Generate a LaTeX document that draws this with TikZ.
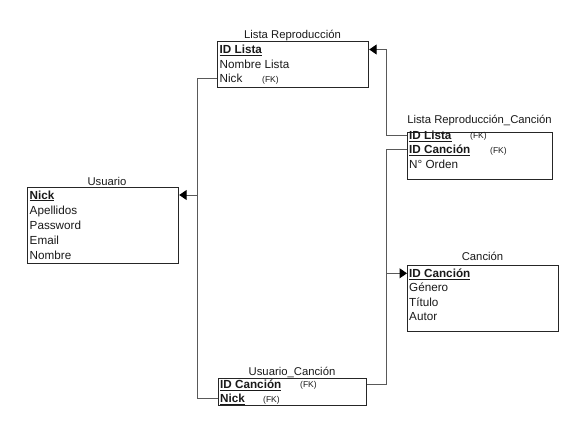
\documentclass[tikz,border=0pt]{standalone}
\usepackage{fontspec}
\setmainfont{Liberation Sans}
\usetikzlibrary{positioning,arrows.meta}

\begin{document}
\begin{tikzpicture}[x=1pt, y=-1pt,
    every node/.style={font=\fontsize{11.7}{13}\selectfont, text=black!90},
    tabla/.style={draw=black!85, line width=1.2pt, rectangle, inner sep=0pt, anchor=north west},
    titulo/.style={anchor=base, inner sep=0pt, font=\fontsize{11.3}{13}\selectfont},
    fila/.style={anchor=base west, inner sep=0pt, text height=8pt, text depth=0pt},
    fk/.style={anchor=base west, inner sep=0pt, font=\fontsize{8.5}{9}\selectfont},
    conn/.style={draw=black!65, line width=1pt},
    flecha/.style={conn, ->, >={Triangle[length=7.5pt,width=10pt,fill=black,color=black]}}]
  \useasboundingbox (0,0) rectangle (583,433);

  \node[tabla, minimum width=151pt, minimum height=46pt] (lista) at (217,41) {};
  \node[titulo] (lista-t) at (292.5,39) {Lista Reproducción};
  \node[fila] (lista-id) at (219.5,53.5) {\underline{\textbf{ID Lista}}};
  \node[fila] (lista-nombre) at (219.5,68.5) {Nombre Lista};
  \node[fila] (lista-nick) at (219.5,83) {Nick};
  \node[fk] (lista-nick-fk) at (262,82.5) {(FK)};

  \node[tabla, minimum width=145pt, minimum height=47pt] (lrc) at (407,132) {};
  \node[titulo] (lrc-t) at (479.5,123.3) {Lista Reproducción\_Canción};
  \node[fila] (lrc-idlista) at (409,139.8) {\underline{\textbf{ID Lista}}};
  \node[fk] (lrc-idlista-fk) at (470,139) {(FK)};
  \node[fila] (lrc-idcancion) at (409,153.8) {\underline{\textbf{ID Canción}}};
  \node[fk] (lrc-idcancion-fk) at (490,153) {(FK)};
  \node[fila] (lrc-orden) at (409,168.2) {N° Orden};

  \node[tabla, minimum width=151pt, minimum height=76pt] (usuario) at (27,187) {};
  \node[titulo] (usuario-t) at (107,185) {Usuario};
  \node[fila] (usuario-nick) at (29.5,199) {\underline{\textbf{Nick}}};
  \node[fila] (usuario-apellidos) at (29.5,214.5) {Apellidos};
  \node[fila] (usuario-password) at (29.5,229.5) {Password};
  \node[fila] (usuario-email) at (29.5,244.5) {Email};
  \node[fila] (usuario-nombre) at (29.5,259.5) {Nombre};

  \node[tabla, minimum width=151pt, minimum height=66pt] (cancion) at (407,265) {};
  \node[titulo] (cancion-t) at (482.5,260.5) {Canción};
  \node[fila] (cancion-id) at (409,277.3) {\underline{\textbf{ID Canción}}};
  \node[fila] (cancion-genero) at (409,291.8) {Género};
  \node[fila] (cancion-titulo) at (409,306.3) {Título};
  \node[fila] (cancion-autor) at (409,320.8) {Autor};

  \node[tabla, minimum width=148pt, minimum height=27pt] (uc) at (218,378) {};
  \node[titulo] (uc-t) at (292,375.5) {Usuario\_Canción};
  \node[fila] (uc-idcancion) at (220,388.3) {\underline{\textbf{ID Canción}}};
  \node[fk] (uc-idcancion-fk) at (300,387.5) {(FK)};
  \node[fila] (uc-nick) at (220,402.7) {\underline{\textbf{Nick}}};
  \node[fk] (uc-nick-fk) at (263,402) {(FK)};

  \coordinate (busU) at (197,0);
  \coordinate (busR) at (386.5,0);

  \draw[conn] (lista.west |- lista-nick) -| (busU |- uc-nick) -- (uc.west |- uc-nick);
  \draw[flecha] (busU |- usuario-nick) -- (usuario.east |- usuario-nick);
  \draw[flecha] (lrc.west |- lrc-idlista) -| (busR |- lista-id) -- (lista.east |- lista-id);
  \draw[conn] (lrc.west |- lrc-idcancion) -| (busR |- uc-idcancion) -- (uc.east |- uc-idcancion);
  \draw[flecha] (busR |- cancion-id) -- (cancion.west |- cancion-id);
\end{tikzpicture}
\end{document}
